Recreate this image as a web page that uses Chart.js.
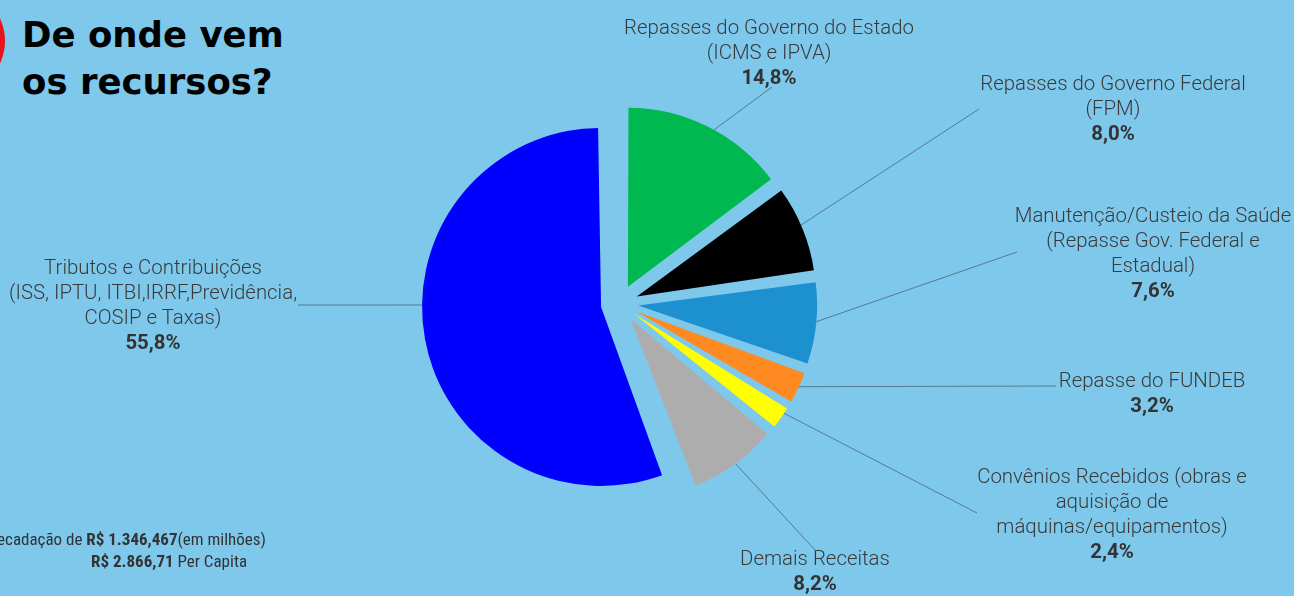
<!DOCTYPE html>
<html lang="pt-BR">
<head>
<meta charset="utf-8">
<title>De onde vem os recursos?</title>
<script src="https://cdn.jsdelivr.net/npm/chart.js@4.4.1/dist/chart.umd.min.js"></script>
<style>
    html, body { margin: 0; padding: 0; }
    body {
        width: 1294px; height: 596px; overflow: hidden; position: relative;
        background: #7ec8ec;
        font-family: Roboto, 'Liberation Sans', sans-serif;
    }
    #pieChart { position: absolute; left: 0; top: 0; }
    .dot {
        position: absolute; left: -101px; top: -12px; width: 106px; height: 106px;
        border-radius: 50%; background: #e8141b;
    }
    .title {
        position: absolute; left: 22px; top: 11px;
        font-family: 'DejaVu Sans', sans-serif; font-weight: 700;
        font-size: 35.5px; line-height: 47px; color: #000;
    }
    .label {
        position: absolute; text-align: center; white-space: nowrap;
        font-size: 20.4px; font-weight: 300; line-height: 25px; color: #3a3a3a;
        transform: translateX(-50%);
    }
    .label b { font-weight: 700; color: #333; }
    .total {
        position: absolute; white-space: nowrap; color: #333;
        font-family: 'Liberation Sans Narrow', 'Roboto Condensed', sans-serif;
        font-size: 17px; line-height: 22px;
    }
</style>
</head>
<body>
<div class="dot"></div>
<div class="title">De onde vem<br>os recursos?</div>
<canvas id="pieChart" width="1294" height="596"></canvas>
<div class="total" style="right: 1028px; top: 528px;">Arrecadação de <b>R$ 1.346,467</b>(em milhões)</div>
<div class="total" style="left: 91px; top: 550px;"><b>R$ 2.866,71</b> Per Capita</div>

<script>
const categoryLines = [
    ['Repasses do Governo do Estado', '(ICMS e IPVA)'],
    ['Repasses do Governo Federal', '(FPM)'],
    ['Manutenção/Custeio da Saúde', '(Repasse Gov. Federal e', 'Estadual)'],
    ['Repasse do FUNDEB'],
    ['Convênios Recebidos (obras e', 'aquisição de', 'máquinas/equipamentos)'],
    ['Demais Receitas'],
    ['Tributos e Contribuições', '(ISS, IPTU, ITBI,IRRF,Previdência,', 'COSIP e Taxas)']
];
const shares = [14.8, 8.0, 7.6, 3.2, 2.4, 8.2, 55.8];
const sliceColors = ['#00b850', '#000000', '#1d90d0', '#ff8a22', '#ffff00', '#adadad', '#0000ff'];

// label block (center x, first line center y), leader line end, and where along the slice the line starts
const labelSpots = [
    { cx: 769, y: 27, ax: 772, ay: 87, along: 0.54 },
    { cx: 1113, y: 83, ax: 979, ay: 109, along: 0.46 },
    { cx: 1153, y: 215, ax: 1017, ay: 252, along: 0.48 },
    { cx: 1152, y: 380, ax: 1056, ay: 386, along: 0.47 },
    { cx: 1112, y: 476, ax: 977, ay: 513, along: 0.3 },
    { cx: 815, y: 558, ax: 815, ay: 550, along: 0.49 },
    { cx: 153, y: 267, ax: 298, ay: 305, along: 0.555 }
];

const PIE_RADIUS = 179;
const EXPLODE = 18.75;

function formatShare(v) {
    return v.toFixed(1).replace('.', ',') + '%';
}

function buildLabels() {
    categoryLines.forEach((lines, i) => {
        const spot = labelSpots[i];
        const div = document.createElement('div');
        div.className = 'label';
        div.style.left = spot.cx + 'px';
        div.style.top = (spot.y - 12.5) + 'px';
        div.innerHTML = lines.join('<br>') + '<br><b>' + formatShare(shares[i]) + '</b>';
        document.body.appendChild(div);
    });
}

// arc offset also grows the radius a bit, so pull it back to keep every slice the same size
const radiusFix = {
    id: 'radiusFix',
    afterDatasetUpdate(chart, args) {
        const meta = chart.getDatasetMeta(args.index);
        meta.data.forEach(arc => {
            const fix = 1 - Math.sin(Math.min(Math.PI, arc.circumference));
            arc.outerRadius = PIE_RADIUS - EXPLODE * fix;
        });
    }
};

const leaderLines = {
    id: 'leaderLines',
    afterDatasetsDraw(chart) {
        const ctx = chart.ctx;
        const meta = chart.getDatasetMeta(0);
        ctx.save();
        ctx.strokeStyle = '#58788e';
        ctx.lineWidth = 1;
        meta.data.forEach((arc, i) => {
            const spot = labelSpots[i];
            const mid = (arc.startAngle + arc.endAngle) / 2;
            const at = arc.startAngle + (arc.endAngle - arc.startAngle) * spot.along;
            const sx = arc.x + Math.cos(mid) * EXPLODE + Math.cos(at) * PIE_RADIUS;
            const sy = arc.y + Math.sin(mid) * EXPLODE + Math.sin(at) * PIE_RADIUS;
            ctx.beginPath();
            ctx.moveTo(sx, sy);
            ctx.lineTo(spot.ax, spot.ay);
            ctx.stroke();
        });
        ctx.restore();
    }
};

function createPieChart() {
    const ctx = document.getElementById('pieChart').getContext('2d');
    new Chart(ctx, {
        type: 'pie',
        data: {
            labels: categoryLines.map(l => l.join(' ')),
            datasets: [{
                data: shares,
                backgroundColor: sliceColors,
                borderWidth: 0,
                offset: EXPLODE * 4
            }]
        },
        options: {
            responsive: false,
            devicePixelRatio: 1,
            animation: false,
            radius: PIE_RADIUS,
            layout: {
                padding: { left: 300, right: 355, top: 100, bottom: 89 }
            },
            plugins: {
                legend: { display: false },
                tooltip: { enabled: false }
            }
        },
        plugins: [radiusFix, leaderLines]
    });
}

buildLabels();
createPieChart();
</script>
</body>
</html>
